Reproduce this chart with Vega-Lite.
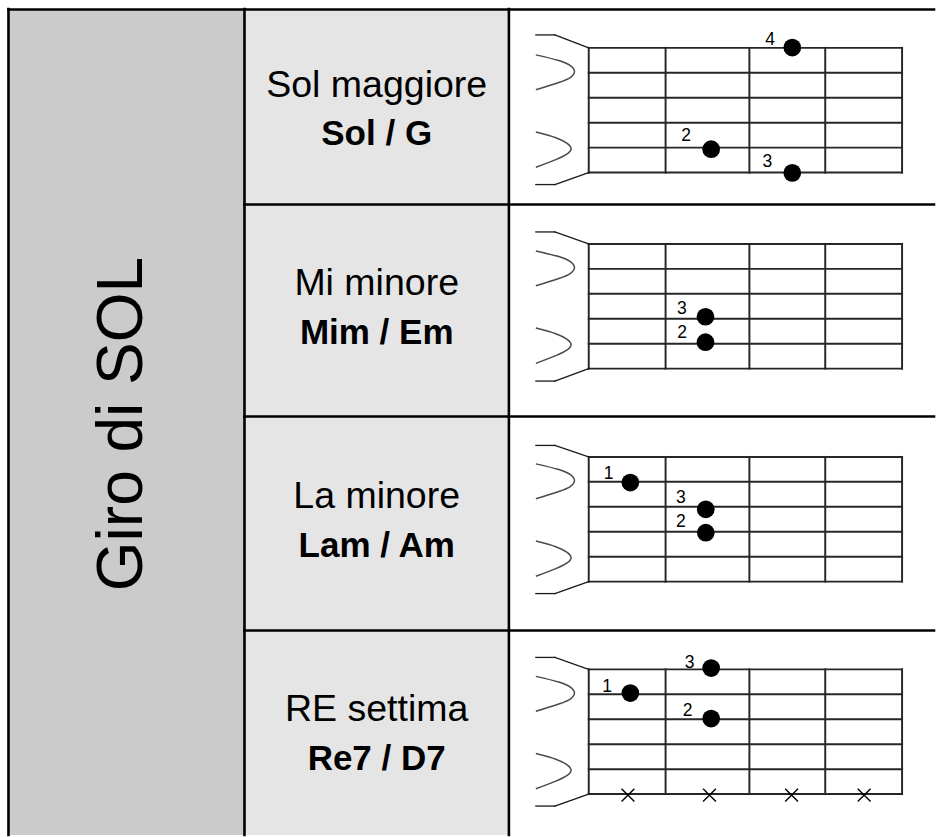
{
  "$schema": "https://vega.github.io/schema/vega-lite/v6.json",
  "width": 936,
  "height": 837,
  "autosize": {"type": "fit", "contains": "padding"},
  "padding": 0,
  "background": "white",
  "config": {"view": {"stroke": null}, "font": "Liberation Sans"},
  "datasets": {
    "celle": [
      {"parte": "titolo", "x": 8, "x2": 245, "y": 9, "y2": 837},
      {"parte": "accordo", "x": 245, "x2": 510, "y": 9, "y2": 837},
      {"parte": "diagramma", "x": 510, "x2": 936, "y": 9, "y2": 837}
    ],
    "linee": [
      {"tipo": "bordo", "x": 8.5, "x2": 8.5, "y": 9, "y2": 837},
      {"tipo": "bordo", "x": 245, "x2": 245, "y": 9, "y2": 837},
      {"tipo": "bordo", "x": 510, "x2": 510, "y": 9, "y2": 837},
      {"tipo": "bordo", "x": 8.5, "x2": 936, "y": 9.5, "y2": 9.5},
      {"tipo": "bordo", "x": 245, "x2": 936, "y": 205, "y2": 205},
      {"tipo": "bordo", "x": 245, "x2": 936, "y": 417.5, "y2": 417.5},
      {"tipo": "bordo", "x": 245, "x2": 936, "y": 632, "y2": 632},

      {"tipo": "griglia", "x": 590, "x2": 904, "y": 48, "y2": 48},
      {"tipo": "griglia", "x": 590, "x2": 904, "y": 73, "y2": 73},
      {"tipo": "griglia", "x": 590, "x2": 904, "y": 98, "y2": 98},
      {"tipo": "griglia", "x": 590, "x2": 904, "y": 123, "y2": 123},
      {"tipo": "griglia", "x": 590, "x2": 904, "y": 148, "y2": 148},
      {"tipo": "griglia", "x": 590, "x2": 904, "y": 173, "y2": 173},
      {"tipo": "griglia", "x": 590, "x2": 590, "y": 48, "y2": 173},
      {"tipo": "griglia", "x": 667, "x2": 667, "y": 48, "y2": 173},
      {"tipo": "griglia", "x": 751, "x2": 751, "y": 48, "y2": 173},
      {"tipo": "griglia", "x": 827, "x2": 827, "y": 48, "y2": 173},
      {"tipo": "griglia", "x": 904, "x2": 904, "y": 48, "y2": 173},

      {"tipo": "griglia", "x": 590, "x2": 904, "y": 244.5, "y2": 244.5},
      {"tipo": "griglia", "x": 590, "x2": 904, "y": 269.5, "y2": 269.5},
      {"tipo": "griglia", "x": 590, "x2": 904, "y": 294.5, "y2": 294.5},
      {"tipo": "griglia", "x": 590, "x2": 904, "y": 319.5, "y2": 319.5},
      {"tipo": "griglia", "x": 590, "x2": 904, "y": 344.5, "y2": 344.5},
      {"tipo": "griglia", "x": 590, "x2": 904, "y": 369.5, "y2": 369.5},
      {"tipo": "griglia", "x": 590, "x2": 590, "y": 244.5, "y2": 369.5},
      {"tipo": "griglia", "x": 667, "x2": 667, "y": 244.5, "y2": 369.5},
      {"tipo": "griglia", "x": 751, "x2": 751, "y": 244.5, "y2": 369.5},
      {"tipo": "griglia", "x": 827, "x2": 827, "y": 244.5, "y2": 369.5},
      {"tipo": "griglia", "x": 904, "x2": 904, "y": 244.5, "y2": 369.5},

      {"tipo": "griglia", "x": 590, "x2": 904, "y": 458, "y2": 458},
      {"tipo": "griglia", "x": 590, "x2": 904, "y": 483, "y2": 483},
      {"tipo": "griglia", "x": 590, "x2": 904, "y": 508, "y2": 508},
      {"tipo": "griglia", "x": 590, "x2": 904, "y": 533, "y2": 533},
      {"tipo": "griglia", "x": 590, "x2": 904, "y": 558, "y2": 558},
      {"tipo": "griglia", "x": 590, "x2": 904, "y": 583, "y2": 583},
      {"tipo": "griglia", "x": 590, "x2": 590, "y": 458, "y2": 583},
      {"tipo": "griglia", "x": 667, "x2": 667, "y": 458, "y2": 583},
      {"tipo": "griglia", "x": 751, "x2": 751, "y": 458, "y2": 583},
      {"tipo": "griglia", "x": 827, "x2": 827, "y": 458, "y2": 583},
      {"tipo": "griglia", "x": 904, "x2": 904, "y": 458, "y2": 583},

      {"tipo": "griglia", "x": 590, "x2": 904, "y": 671, "y2": 671},
      {"tipo": "griglia", "x": 590, "x2": 904, "y": 696, "y2": 696},
      {"tipo": "griglia", "x": 590, "x2": 904, "y": 721, "y2": 721},
      {"tipo": "griglia", "x": 590, "x2": 904, "y": 746, "y2": 746},
      {"tipo": "griglia", "x": 590, "x2": 904, "y": 771, "y2": 771},
      {"tipo": "griglia", "x": 590, "x2": 904, "y": 796, "y2": 796},
      {"tipo": "griglia", "x": 590, "x2": 590, "y": 671, "y2": 796},
      {"tipo": "griglia", "x": 667, "x2": 667, "y": 671, "y2": 796},
      {"tipo": "griglia", "x": 751, "x2": 751, "y": 671, "y2": 796},
      {"tipo": "griglia", "x": 827, "x2": 827, "y": 671, "y2": 796},
      {"tipo": "griglia", "x": 904, "x2": 904, "y": 671, "y2": 796},

      {"tipo": "paletta", "x": 537, "x2": 556, "y": 35, "y2": 35},
      {"tipo": "paletta", "x": 556, "x2": 590, "y": 35, "y2": 48},
      {"tipo": "paletta", "x": 537, "x2": 556, "y": 185, "y2": 185},
      {"tipo": "paletta", "x": 556, "x2": 590, "y": 185, "y2": 173},
      {"tipo": "paletta", "x": 537, "x2": 556, "y": 232.5, "y2": 232.5},
      {"tipo": "paletta", "x": 556, "x2": 590, "y": 232.5, "y2": 244.5},
      {"tipo": "paletta", "x": 537, "x2": 556, "y": 382, "y2": 382},
      {"tipo": "paletta", "x": 556, "x2": 590, "y": 382, "y2": 369.5},
      {"tipo": "paletta", "x": 537, "x2": 556, "y": 446.5, "y2": 446.5},
      {"tipo": "paletta", "x": 556, "x2": 590, "y": 446.5, "y2": 458},
      {"tipo": "paletta", "x": 537, "x2": 556, "y": 595, "y2": 595},
      {"tipo": "paletta", "x": 556, "x2": 590, "y": 595, "y2": 583},
      {"tipo": "paletta", "x": 537, "x2": 556, "y": 659, "y2": 659},
      {"tipo": "paletta", "x": 556, "x2": 590, "y": 659, "y2": 671},
      {"tipo": "paletta", "x": 537, "x2": 556, "y": 808, "y2": 808},
      {"tipo": "paletta", "x": 556, "x2": 590, "y": 808, "y2": 796}
    ],
    "curve": [
      {"c": "1a", "k": 1, "x": 537, "y": 55}, {"c": "1a", "k": 2, "x": 560, "y": 60.7}, {"c": "1a", "k": 3, "x": 571.5, "y": 65.7}, {"c": "1a", "k": 4, "x": 575.7, "y": 71.7}, {"c": "1a", "k": 5, "x": 571.5, "y": 77.7}, {"c": "1a", "k": 6, "x": 560, "y": 82.7}, {"c": "1a", "k": 7, "x": 537, "y": 90},
      {"c": "1b", "k": 1, "x": 537, "y": 132.3}, {"c": "1b", "k": 2, "x": 557, "y": 138}, {"c": "1b", "k": 3, "x": 568, "y": 143.5}, {"c": "1b", "k": 4, "x": 572.3, "y": 149}, {"c": "1b", "k": 5, "x": 568, "y": 154.5}, {"c": "1b", "k": 6, "x": 557, "y": 160}, {"c": "1b", "k": 7, "x": 537, "y": 167.7},
      {"c": "2a", "k": 1, "x": 537, "y": 251.5}, {"c": "2a", "k": 2, "x": 560, "y": 257.2}, {"c": "2a", "k": 3, "x": 571.5, "y": 262.2}, {"c": "2a", "k": 4, "x": 575.7, "y": 268.2}, {"c": "2a", "k": 5, "x": 571.5, "y": 274.2}, {"c": "2a", "k": 6, "x": 560, "y": 279.2}, {"c": "2a", "k": 7, "x": 537, "y": 286.5},
      {"c": "2b", "k": 1, "x": 537, "y": 328.8}, {"c": "2b", "k": 2, "x": 557, "y": 334.5}, {"c": "2b", "k": 3, "x": 568, "y": 340}, {"c": "2b", "k": 4, "x": 572.3, "y": 345.5}, {"c": "2b", "k": 5, "x": 568, "y": 351}, {"c": "2b", "k": 6, "x": 557, "y": 356.5}, {"c": "2b", "k": 7, "x": 537, "y": 364.2},
      {"c": "3a", "k": 1, "x": 537, "y": 465}, {"c": "3a", "k": 2, "x": 560, "y": 470.7}, {"c": "3a", "k": 3, "x": 571.5, "y": 475.7}, {"c": "3a", "k": 4, "x": 575.7, "y": 481.7}, {"c": "3a", "k": 5, "x": 571.5, "y": 487.7}, {"c": "3a", "k": 6, "x": 560, "y": 492.7}, {"c": "3a", "k": 7, "x": 537, "y": 500},
      {"c": "3b", "k": 1, "x": 537, "y": 542.3}, {"c": "3b", "k": 2, "x": 557, "y": 548}, {"c": "3b", "k": 3, "x": 568, "y": 553.5}, {"c": "3b", "k": 4, "x": 572.3, "y": 559}, {"c": "3b", "k": 5, "x": 568, "y": 564.5}, {"c": "3b", "k": 6, "x": 557, "y": 570}, {"c": "3b", "k": 7, "x": 537, "y": 577.7},
      {"c": "4a", "k": 1, "x": 537, "y": 678}, {"c": "4a", "k": 2, "x": 560, "y": 683.7}, {"c": "4a", "k": 3, "x": 571.5, "y": 688.7}, {"c": "4a", "k": 4, "x": 575.7, "y": 694.7}, {"c": "4a", "k": 5, "x": 571.5, "y": 700.7}, {"c": "4a", "k": 6, "x": 560, "y": 705.7}, {"c": "4a", "k": 7, "x": 537, "y": 713},
      {"c": "4b", "k": 1, "x": 537, "y": 755.3}, {"c": "4b", "k": 2, "x": 557, "y": 761}, {"c": "4b", "k": 3, "x": 568, "y": 766.5}, {"c": "4b", "k": 4, "x": 572.3, "y": 772}, {"c": "4b", "k": 5, "x": 568, "y": 777.5}, {"c": "4b", "k": 6, "x": 557, "y": 783}, {"c": "4b", "k": 7, "x": 537, "y": 790.7}
    ],
    "dita": [
      {"accordo": "G", "dito": "4", "x": 794, "y": 47.7, "lx": 771.7, "ly": 45},
      {"accordo": "G", "dito": "2", "x": 712.7, "y": 149.5, "lx": 687.7, "ly": 141.5},
      {"accordo": "G", "dito": "3", "x": 794, "y": 173.3, "lx": 769, "ly": 167.5},
      {"accordo": "Em", "dito": "3", "x": 707, "y": 317.5, "lx": 683.3, "ly": 315},
      {"accordo": "Em", "dito": "2", "x": 707, "y": 343, "lx": 683.5, "ly": 339.3},
      {"accordo": "Am", "dito": "1", "x": 631.7, "y": 483.7, "lx": 610, "ly": 480},
      {"accordo": "Am", "dito": "3", "x": 707.3, "y": 510.5, "lx": 682.3, "ly": 504},
      {"accordo": "Am", "dito": "2", "x": 707.3, "y": 534, "lx": 682.3, "ly": 528.3},
      {"accordo": "D7", "dito": "3", "x": 712.7, "y": 669.7, "lx": 691, "ly": 669.3},
      {"accordo": "D7", "dito": "1", "x": 631.7, "y": 694.7, "lx": 608.3, "ly": 693.3},
      {"accordo": "D7", "dito": "2", "x": 712.7, "y": 720.3, "lx": 689, "ly": 717.3}
    ],
    "muti": [
      {"accordo": "D7", "x": 629.3, "y": 797},
      {"accordo": "D7", "x": 711, "y": 797},
      {"accordo": "D7", "x": 793.3, "y": 797},
      {"accordo": "D7", "x": 866, "y": 797}
    ],
    "titolo": [
      {"testo": "Giro di SOL", "x": 142, "y": 425}
    ],
    "nomi": [
      {"testo": "Sol maggiore", "x": 377.5, "y": 97.7},
      {"testo": "Mi minore", "x": 377.5, "y": 296},
      {"testo": "La minore", "x": 377.5, "y": 509.3},
      {"testo": "RE settima", "x": 377.5, "y": 723}
    ],
    "sigle": [
      {"testo": "Sol / G", "x": 377.5, "y": 145},
      {"testo": "Mim / Em", "x": 377.5, "y": 345},
      {"testo": "Lam / Am", "x": 377.5, "y": 558.3},
      {"testo": "Re7 / D7", "x": 377.5, "y": 771.7}
    ]
  },
  "encoding": {
    "x": {"field": "x", "type": "quantitative", "scale": {"domain": [0, 936], "nice": false, "zero": false}, "axis": null},
    "y": {"field": "y", "type": "quantitative", "scale": {"domain": [0, 837], "reverse": true, "nice": false, "zero": false}, "axis": null}
  },
  "resolve": {"scale": {"color": "independent", "size": "independent"}},
  "layer": [
    {
      "data": {"name": "celle"},
      "mark": {"type": "rect"},
      "encoding": {
        "x2": {"field": "x2"},
        "y2": {"field": "y2"},
        "color": {"field": "parte", "type": "nominal", "scale": {"domain": ["titolo", "accordo", "diagramma"], "range": ["#cbcbcb", "#e5e5e5", "#ffffff"]}, "legend": null}
      }
    },
    {
      "data": {"name": "linee"},
      "mark": {"type": "rule", "strokeCap": "square"},
      "encoding": {
        "x2": {"field": "x2"},
        "y2": {"field": "y2"},
        "color": {"field": "tipo", "type": "nominal", "scale": {"domain": ["bordo", "griglia", "paletta"], "range": ["#000000", "#262626", "#1a1a1a"]}, "legend": null},
        "size": {"field": "tipo", "type": "nominal", "scale": {"domain": ["bordo", "griglia", "paletta"], "range": [2.6, 1.3, 1.2]}, "legend": null}
      }
    },
    {
      "data": {"name": "curve"},
      "mark": {"type": "line", "interpolate": "cardinal", "stroke": "#4a4a4a", "strokeWidth": 1.5},
      "encoding": {
        "detail": {"field": "c", "type": "nominal"},
        "order": {"field": "k", "type": "quantitative"}
      }
    },
    {
      "data": {"name": "dita"},
      "mark": {"type": "point", "filled": true, "color": "#000000", "opacity": 1, "size": 314},
      "encoding": {}
    },
    {
      "data": {"name": "dita"},
      "mark": {"type": "text", "fontSize": 17.5, "color": "#000000", "align": "center", "baseline": "alphabetic"},
      "encoding": {
        "x": {"field": "lx", "type": "quantitative"},
        "y": {"field": "ly", "type": "quantitative"},
        "text": {"field": "dito"}
      }
    },
    {
      "data": {"name": "muti"},
      "mark": {"type": "point", "shape": "M-1,-1L1,1M-1,1L1,-1", "filled": false, "color": "#000000", "strokeWidth": 1.4, "opacity": 1, "size": 165},
      "encoding": {}
    },
    {
      "data": {"name": "titolo"},
      "mark": {"type": "text", "fontSize": 64, "angle": 270, "align": "center", "baseline": "alphabetic", "color": "#000000"},
      "encoding": {"text": {"field": "testo"}}
    },
    {
      "data": {"name": "nomi"},
      "mark": {"type": "text", "fontSize": 37.5, "align": "center", "baseline": "alphabetic", "color": "#000000"},
      "encoding": {"text": {"field": "testo"}}
    },
    {
      "data": {"name": "sigle"},
      "mark": {"type": "text", "fontSize": 35, "fontWeight": "bold", "align": "center", "baseline": "alphabetic", "color": "#000000"},
      "encoding": {"text": {"field": "testo"}}
    }
  ]
}
